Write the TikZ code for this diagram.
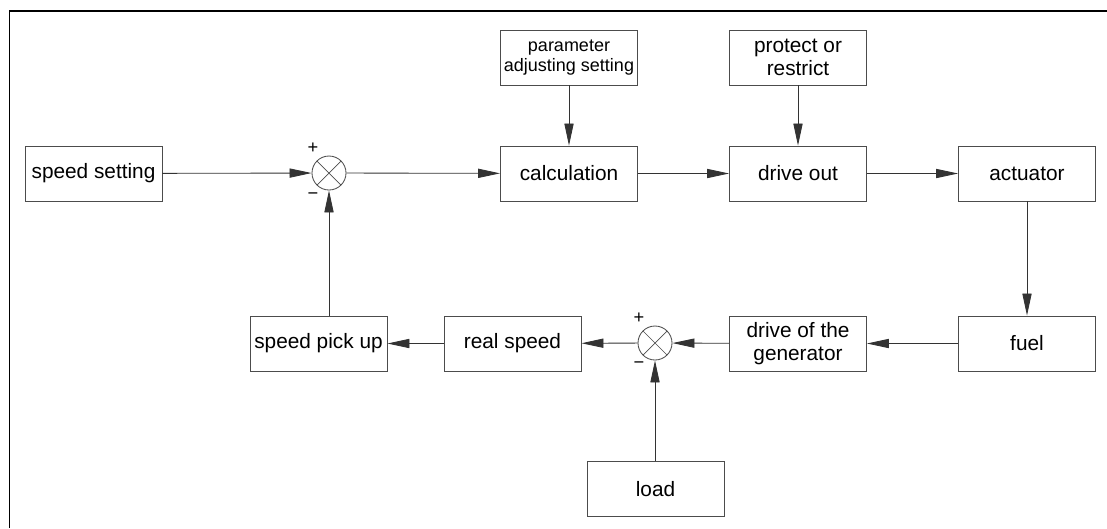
\documentclass[tikz,border=0pt]{standalone}
\usepackage{fontspec}
\setmainfont{Liberation Sans}
\usetikzlibrary{arrows.meta}

\tikzset{
  blk/.style={draw=black!70, line width=0.6pt, minimum width=3.425cm, minimum height=1.375cm,
    align=center, inner sep=1pt, font=\fontsize{14.8}{16.5}\selectfont},
  smallblk/.style={blk, font=\fontsize{12.8}{14.2}\selectfont},
  summer/.style={draw=black!70, line width=0.6pt, circle, minimum size=0.85cm, inner sep=0pt,
    path picture={\draw[black!70, line width=0.5pt]
      (path picture bounding box.north west) -- (path picture bounding box.south east)
      (path picture bounding box.north east) -- (path picture bounding box.south west);}},
  sgn/.style={font=\fontsize{13}{13}\selectfont, inner sep=0pt},
  flow/.style={draw=black!80, line width=0.6pt, -{Triangle[length=5.5mm,width=2.3mm]}}
}

\begin{document}
\begin{tikzpicture}[x=0.025cm, y=-0.025cm]
      \useasboundingbox (0,0) rectangle (1107,528);
      \draw[line width=1.4pt] (9.5,528) -- (9.5,11) -- (1107,11);
      % top row
      \node[blk] (setting) at (93.5,173.5) {speed setting};
      \node[summer] (sum1) at (329,173) {};
      \node[sgn] (p1) at (313,148) {+};
      \node[sgn] (m1) at (313,196) {\textminus};
      \node[smallblk] (param) at (569,57.5) {parameter\\adjusting setting};
      \node[blk] (calc) at (569,173.5) {calculation};
      \node[blk] (protect) at (798,57.5) {protect or\\restrict};
      \node[blk] (driveout) at (798,173.5) {drive out};
      \node[blk] (actuator) at (1027,173.5) {actuator};
      % bottom row
      \node[blk] (fuel) at (1027,343.5) {fuel};
      \node[blk] (gen) at (798,343.5) {drive of the\\generator};
      \node[summer] (sum2) at (655,343) {};
      \node[sgn] (p2) at (639,318) {+};
      \node[sgn] (m2) at (639,365) {\textminus};
      \node[blk] (real) at (512.5,343.5) {real speed};
      \node[blk] (pickup) at (318.5,343.5) {speed pick up};
      \node[blk] (load) at (655.5,489) {load};
      % connectors
      \draw[flow] (setting) -- (sum1);
      \draw[flow] (sum1) -- (calc);
      \draw[flow] (param) -- (calc);
      \draw[flow] (calc) -- (driveout);
      \draw[flow] (protect) -- (driveout);
      \draw[flow] (driveout) -- (actuator);
      \draw[flow] (actuator) -- (fuel);
      \draw[flow] (fuel) -- (gen);
      \draw[flow] (gen) -- (sum2);
      \draw[flow] (sum2) -- (real);
      \draw[flow] (real) -- (pickup);
      \draw[flow] (load.north -| sum2) -- (sum2);
      \draw[flow] (sum1 |- pickup.north) -- (sum1);
    \end{tikzpicture}
\end{document}
